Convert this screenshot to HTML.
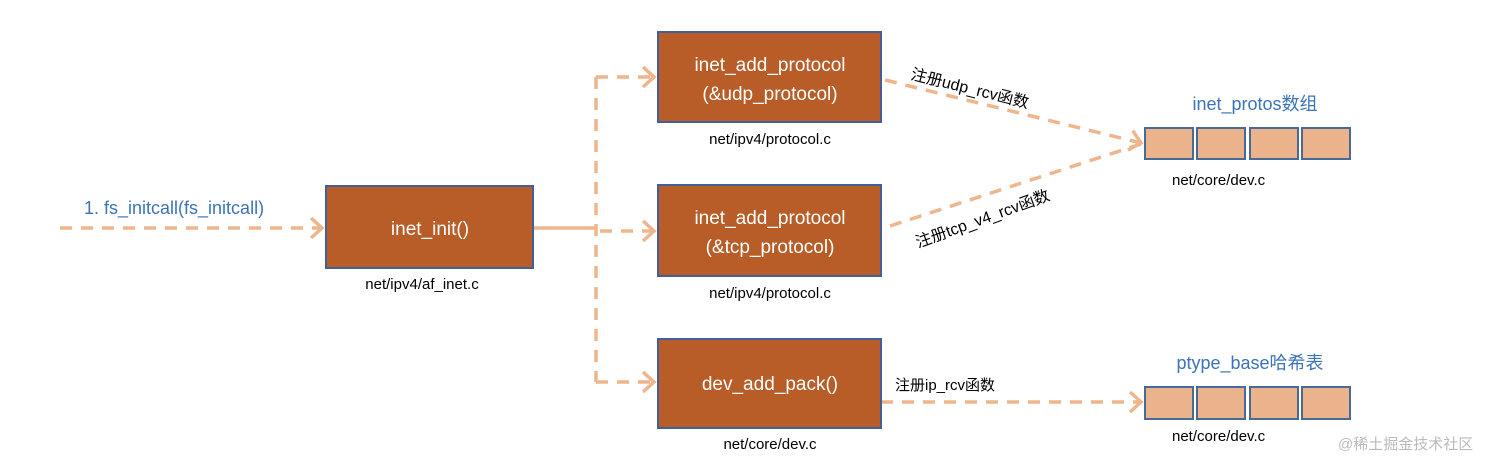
<!DOCTYPE html>
<html><head><meta charset="utf-8"><style>
html,body{margin:0;padding:0;background:#fff;}
svg{display:block;}
text{font-family:"Liberation Sans","Noto Sans CJK SC",sans-serif;}
</style></head><body>
<svg width="1512" height="471" viewBox="0 0 1512 471" xmlns="http://www.w3.org/2000/svg">
<defs>
<marker id="a" markerWidth="16" markerHeight="22" refX="13" refY="11" orient="auto" markerUnits="userSpaceOnUse">
<path d="M2,1 L13,11 L2,21" fill="none" stroke="#efb58c" stroke-width="3.5"/>
</marker>
</defs>
<g stroke="#efb58c" stroke-width="3.5" fill="none">
<line x1="60" y1="228" x2="322" y2="228" stroke-dasharray="12,9" marker-end="url(#a)"/>
<line x1="533" y1="228" x2="596" y2="228"/>
<line x1="596" y1="77" x2="596" y2="382" stroke-dasharray="12,9"/>
<line x1="596" y1="77" x2="654" y2="77" stroke-dasharray="12,9" marker-end="url(#a)"/>
<line x1="600" y1="231" x2="654" y2="231" stroke-dasharray="12,9" marker-end="url(#a)"/>
<line x1="596" y1="382" x2="654" y2="382" stroke-dasharray="12,9" marker-end="url(#a)"/>
<line x1="885" y1="80" x2="1141" y2="143" stroke-dasharray="12,9" marker-end="url(#a)"/>
<line x1="890" y1="226" x2="1141" y2="144" stroke-dasharray="12,9"/>
<line x1="881" y1="402" x2="1141" y2="402" stroke-dasharray="12,9" marker-end="url(#a)"/>
</g>
<g fill="#b85d28" stroke="#41609a" stroke-width="2">
<rect x="326" y="186" width="207" height="82"/>
<rect x="658" y="32" width="223" height="90"/>
<rect x="658" y="185" width="223" height="91"/>
<rect x="658" y="339" width="223" height="89"/>
</g>
<g fill="#ebb38b" stroke="#4a6a96" stroke-width="2">
<rect x="1145" y="128" width="48" height="31"/><rect x="1197" y="128" width="48" height="31"/>
<rect x="1250" y="128" width="48" height="31"/><rect x="1302" y="128" width="48" height="31"/>
<rect x="1145" y="387" width="48" height="32"/><rect x="1197" y="387" width="48" height="32"/>
<rect x="1250" y="387" width="48" height="32"/><rect x="1302" y="387" width="48" height="32"/>
</g>
<g fill="#fff" font-size="19" text-anchor="middle">
<text x="430" y="235">inet_init()</text>
<text x="770" y="71">inet_add_protocol</text>
<text x="770" y="100">(&amp;udp_protocol)</text>
<text x="770" y="224">inet_add_protocol</text>
<text x="770" y="253">(&amp;tcp_protocol)</text>
<text x="770" y="390">dev_add_pack()</text>
</g>
<g fill="#000" font-size="15" text-anchor="middle">
<text x="422" y="289">net/ipv4/af_inet.c</text>
<text x="770" y="144">net/ipv4/protocol.c</text>
<text x="770" y="298">net/ipv4/protocol.c</text>
<text x="770" y="449">net/core/dev.c</text>
<text x="1172" y="185" text-anchor="start">net/core/dev.c</text>
<text x="1172" y="441" text-anchor="start">net/core/dev.c</text>
</g>
<g fill="#000" font-size="16">
<text transform="translate(910,79) rotate(14)">注册udp_rcv函数</text>
<text transform="translate(918,248) rotate(-20)">注册tcp_v4_rcv函数</text>
<text x="895" y="390" font-size="15">注册ip_rcv函数</text>
</g>
<g fill="#3b74b8" font-size="18">
<text x="84" y="214">1. fs_initcall(fs_initcall)</text>
<text x="1255" y="110" text-anchor="middle">inet_protos数组</text>
<text x="1250" y="369" text-anchor="middle">ptype_base哈希表</text>
</g>
<text x="1338" y="449" fill="#bbb" font-size="15">@稀土掘金技术社区</text>
</svg>
</body></html>
